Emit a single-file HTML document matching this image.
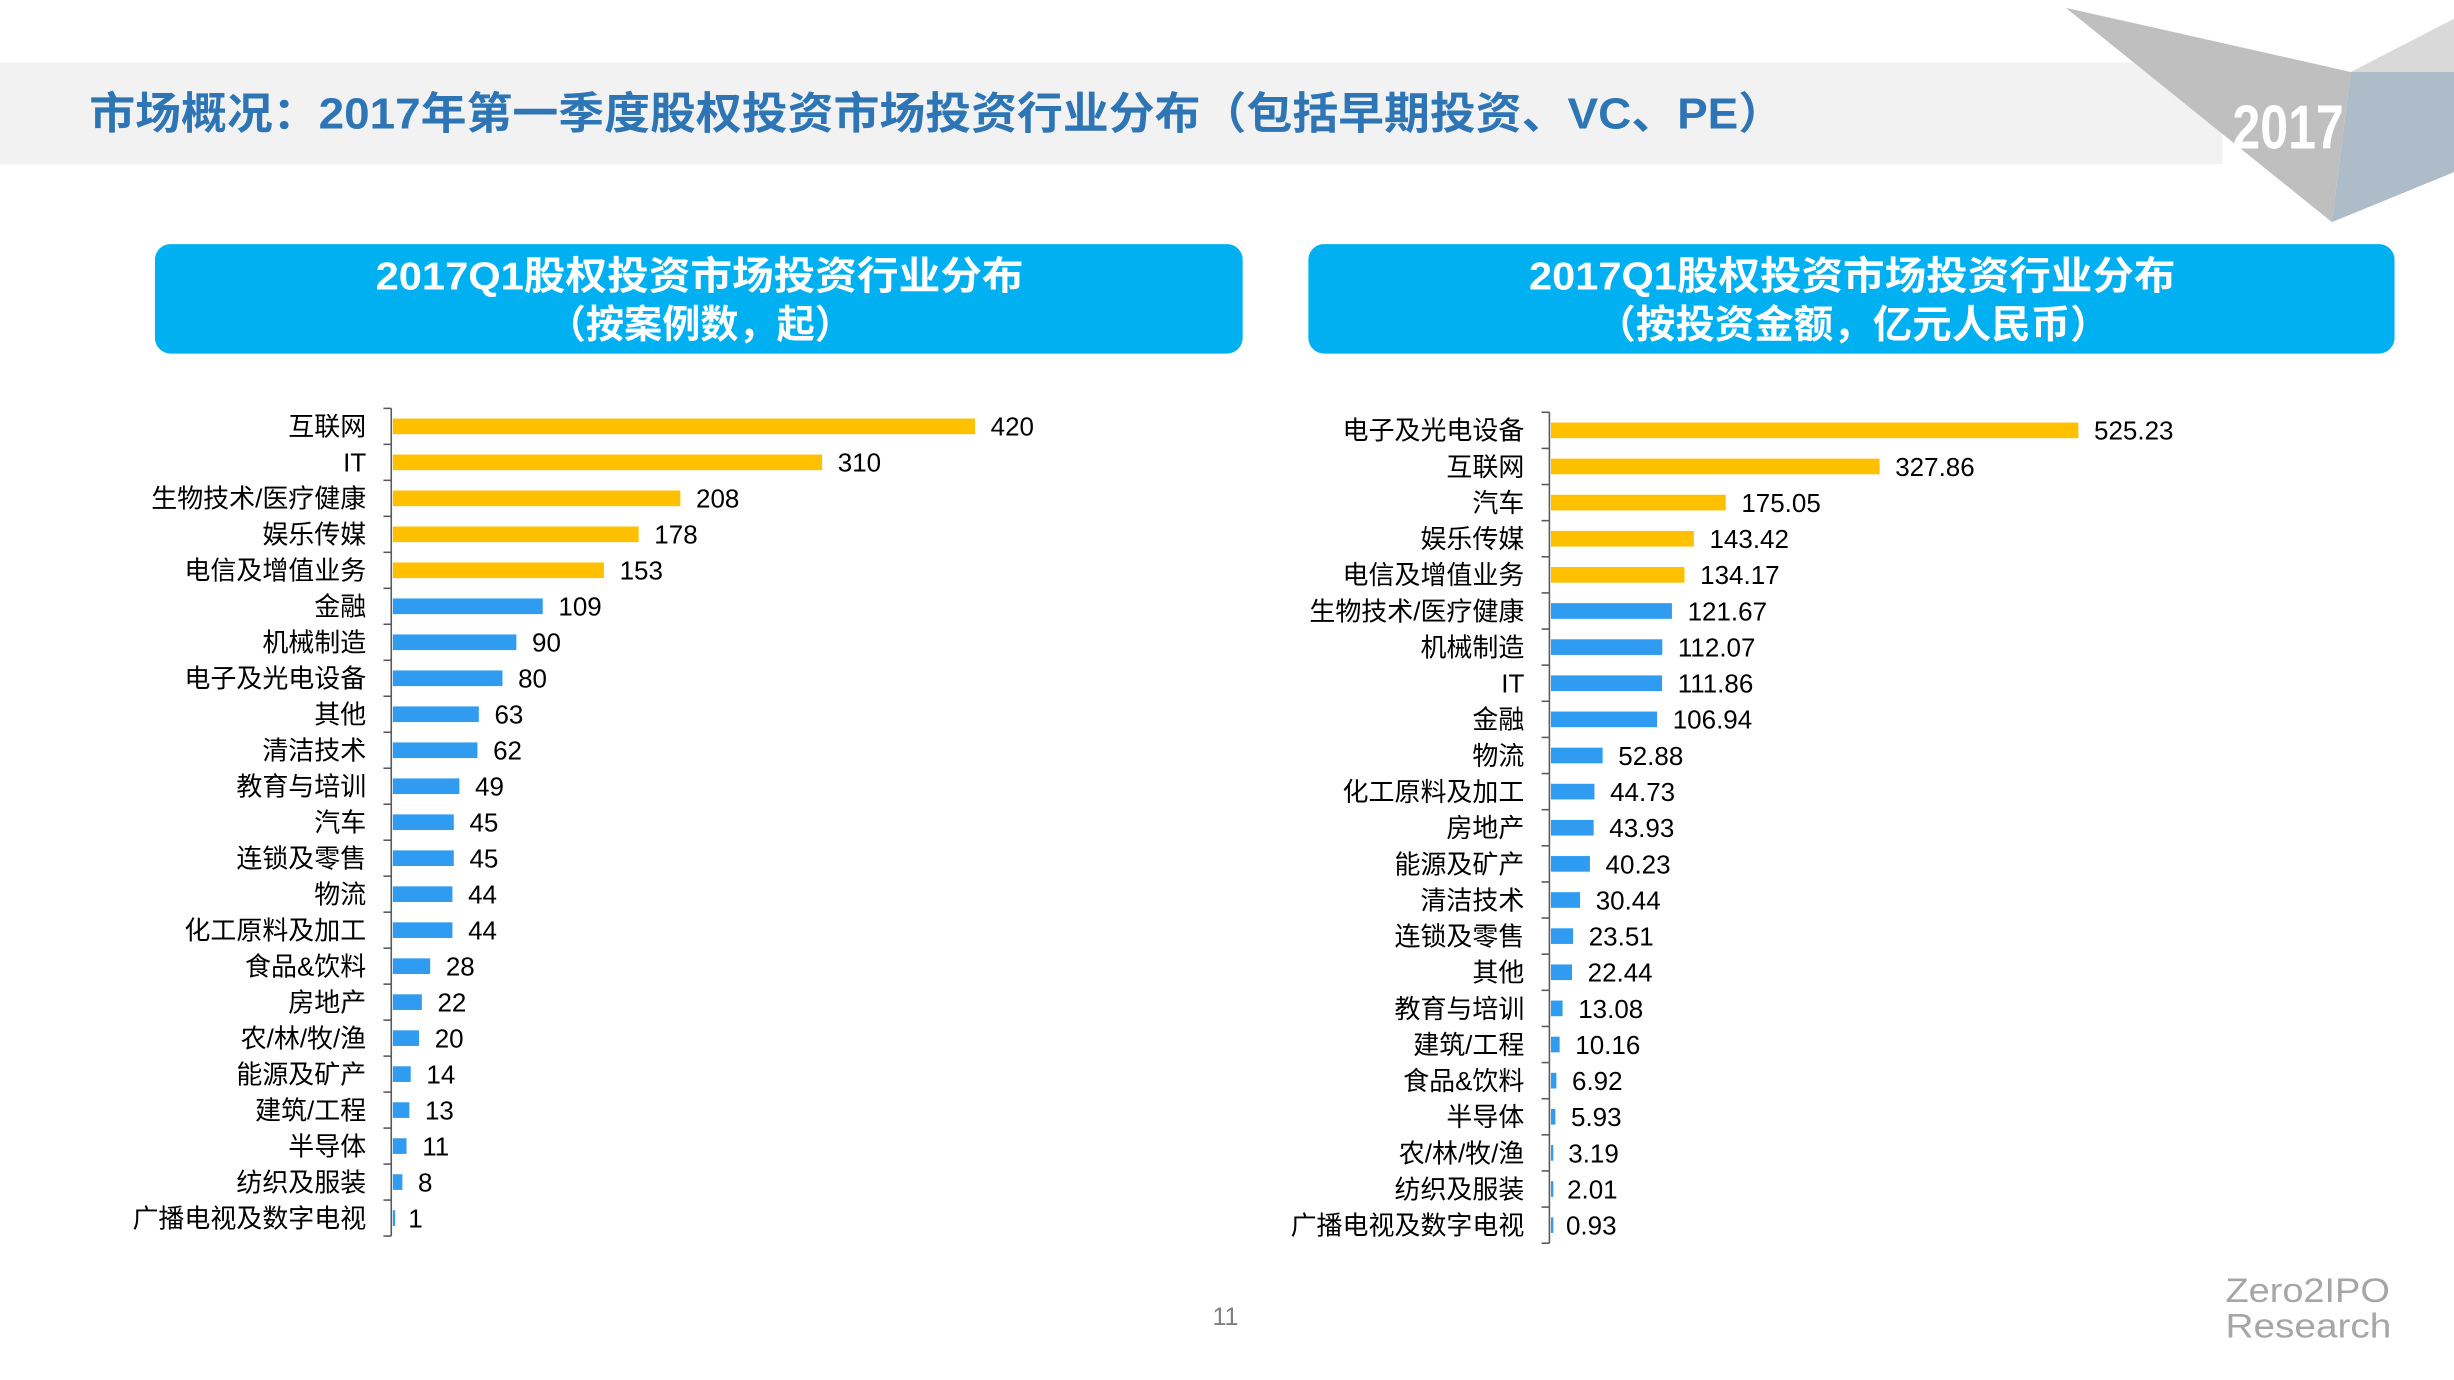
<!DOCTYPE html>
<html><head><meta charset="utf-8"><style>
html,body{margin:0;padding:0;background:#fff;}
svg{display:block;}
text{font-family:"Liberation Sans","Noto Sans CJK SC",sans-serif;}
</style></head><body>
<svg id="page" width="2454" height="1380" viewBox="0 0 1568 882" preserveAspectRatio="none" xmlns="http://www.w3.org/2000/svg">
  <rect x="0" y="40" width="1420" height="65" fill="#f2f2f2"/>
  <text x="57" y="82" font-size="28" font-weight="bold" fill="#2e75b6" textLength="1083" lengthAdjust="spacingAndGlyphs">市场概况：2017年第一季度股权投资市场投资行业分布（包括早期投资、VC、PE）</text>
  <g>
    <polygon points="1320,5 1502,46 1490,142" fill="#bfbfbf"/>
    <polygon points="1502,46 1568,12 1568,46" fill="#d9d9d9"/>
    <polygon points="1502,46 1568,46 1568,110 1490,142" fill="#adbcc8"/>
    <polygon points="1320,5 1430,30 1502,46" fill="#c9c9c9"/>
    <text x="1462" y="95" font-size="40" font-weight="bold" fill="#fff" text-anchor="middle" transform="translate(1462 0) scale(0.8 1) translate(-1462 0)">2017</text>
  </g>
  <g>
    <rect x="99" y="156" width="695" height="70" rx="10" fill="#00b0f0"/>
    <text x="240" y="185" font-size="25" font-weight="bold" fill="#fff" textLength="414" lengthAdjust="spacingAndGlyphs">2017Q1股权投资市场投资行业分布</text>
    <text x="350" y="216" font-size="25" font-weight="bold" fill="#fff" textLength="195" lengthAdjust="spacingAndGlyphs">（按案例数，起）</text>
  </g>
  <g>
    <rect x="836" y="156" width="694" height="70" rx="10" fill="#00b0f0"/>
    <text x="977" y="185" font-size="25" font-weight="bold" fill="#fff" textLength="413" lengthAdjust="spacingAndGlyphs">2017Q1股权投资市场投资行业分布</text>
    <text x="1020" y="216" font-size="25" font-weight="bold" fill="#fff" textLength="328" lengthAdjust="spacingAndGlyphs">（按投资金额，亿元人民币）</text>
  </g>
  <g id="chart-left"></g>
  <g id="chart-right"></g>
  <text x="783" y="847" font-size="16" fill="#808080" text-anchor="middle">11</text>
  <text x="1422" y="832" font-size="22" fill="#a6a6a6" textLength="105" lengthAdjust="spacingAndGlyphs">Zero2IPO</text>
  <text x="1422" y="855" font-size="22" fill="#a6a6a6" textLength="106" lengthAdjust="spacingAndGlyphs">Research</text>
</svg>
<script>
var leftCategories = ["互联网","IT","生物技术/医疗健康","娱乐传媒","电信及增值业务","金融","机械制造","电子及光电设备","其他","清洁技术","教育与培训","汽车","连锁及零售","物流","化工原料及加工","食品&饮料","房地产","农/林/牧/渔","能源及矿产","建筑/工程","半导体","纺织及服装","广播电视及数字电视"];
var leftValues = [420,310,208,178,153,109,90,80,63,62,49,45,45,44,44,28,22,20,14,13,11,8,1];
var leftLabels = ["420","310","208","178","153","109","90","80","63","62","49","45","45","44","44","28","22","20","14","13","11","8","1"];
var rightCategories = ["电子及光电设备","互联网","汽车","娱乐传媒","电信及增值业务","生物技术/医疗健康","机械制造","IT","金融","物流","化工原料及加工","房地产","能源及矿产","清洁技术","连锁及零售","其他","教育与培训","建筑/工程","食品&饮料","半导体","农/林/牧/渔","纺织及服装","广播电视及数字电视"];
var rightValues = [525.23,327.86,175.05,143.42,134.17,121.67,112.07,111.86,106.94,52.88,44.73,43.93,40.23,30.44,23.51,22.44,13.08,10.16,6.92,5.93,3.19,2.01,0.93];
var rightLabels = ["525.23","327.86","175.05","143.42","134.17","121.67","112.07","111.86","106.94","52.88","44.73","43.93","40.23","30.44","23.51","22.44","13.08","10.16","6.92","5.93","3.19","2.01","0.93"];
var highlightCount = 5;

var NS = "http://www.w3.org/2000/svg";
function mk(tag, attrs){var e=document.createElementNS(NS,tag);for(var k in attrs)e.setAttribute(k,attrs[k]);return e;}
function drawChart(g, cats, vals, labels, cfg){
  var n = cats.length;
  var maxV = Math.max.apply(null, vals);
  function xs(v){return cfg.x0 + v/maxV*cfg.maxW;}
  function ys(i){return cfg.yTop + (i+0.5)*cfg.pitch;}
  var yEnd = cfg.yTop + n*cfg.pitch;
  var axis = mk("line",{x1:cfg.x0,y1:cfg.yTop,x2:cfg.x0,y2:yEnd,stroke:"#595959","stroke-width":1});
  
  
  g.appendChild(axis);
  for(var t=0;t<=n;t++){
    var ty = cfg.yTop + t*cfg.pitch;
    var tk = mk("line",{x1:cfg.x0-5,y1:ty,x2:cfg.x0,y2:ty,stroke:"#595959","stroke-width":1});
    
    
    g.appendChild(tk);
  }
  for(var i=0;i<n;i++){
    var cy = ys(i);
    var bar = mk("rect",{x:cfg.x0+1,y:cy-5,width:Math.max(xs(vals[i])-cfg.x0-1,1.5),height:10,fill:i<highlightCount?"#ffc000":"#2f9cf2"});
    
    
    g.appendChild(bar);
    var lab = mk("text",{x:cfg.x0-16,y:cy+6,"font-size":16.6,fill:"#000","text-anchor":"end"});
    lab.textContent = cats[i];
    
    
    g.appendChild(lab);
    var vl = mk("text",{x:xs(vals[i])+10,y:cy+6,"font-size":16.6,fill:"#000"});
    vl.textContent = labels[i];
    
    
    g.appendChild(vl);
  }
}
drawChart(document.getElementById("chart-left"), leftCategories, leftValues, leftLabels, {x0:250,yTop:261,pitch:23.0,maxW:373});
drawChart(document.getElementById("chart-right"), rightCategories, rightValues, rightLabels, {x0:990,yTop:263.5,pitch:23.09,maxW:338});
</script>
</body></html>
